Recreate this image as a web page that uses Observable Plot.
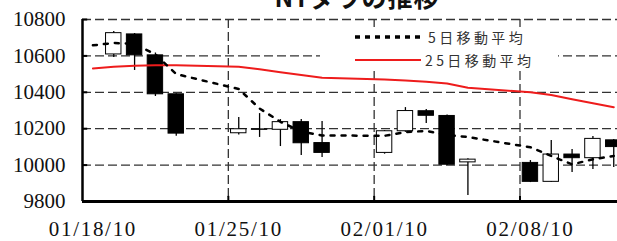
<!DOCTYPE html>
<html><head><meta charset="utf-8">
<script src="https://cdn.jsdelivr.net/npm/d3@7"></script>
<script src="https://cdn.jsdelivr.net/npm/@observablehq/plot@0.6"></script>
<style>
body{margin:0;background:#fff;}
#wrap{position:relative;width:617px;height:241px;overflow:hidden;background:#fff;}
#wrap svg.overlay{position:absolute;left:0;top:0;pointer-events:none;}
</style></head>
<body><div id="wrap"></div>
<script>
// ---- data ----
const title = "NYダウの推移";
const legendLabels = ["5日移動平均", "25日移動平均"];
const tradeDates = ["2010-01-19","2010-01-20","2010-01-21","2010-01-22",
  "2010-01-25","2010-01-26","2010-01-27","2010-01-28","2010-01-29",
  "2010-02-01","2010-02-02","2010-02-03","2010-02-04","2010-02-05",
  "2010-02-08","2010-02-09","2010-02-10","2010-02-11","2010-02-12"];
const opens  = [10608,10718,10603,10389,10175,10196,10194,10236,10121,10067,10186,10296,10270,10015, 10012, 9908,10058,10038,10136];
const highs  = [10734,10723,10616,10392,10262,10283,10250,10250,10240,10190,10316,10305,10275,10035, 10025,10135,10086,10157,10140];
const lows   = [10591,10520,10377,10158,10165,10152,10102,10053,10042,10060,10180,10229, 9998, 9833,  9904, 9905, 9959, 9976, 9987];
const closes = [10725,10603,10389,10173,10197,10194,10236,10120,10067,10186,10297,10271,10002,10030,  9908,10058,10038,10144,10099];
const maDates = ["2010-01-18", ...tradeDates];
const ma5  = [10658,10671,10666,10608,10500,10418,10311,10238,10184,10163,10161,10181,10188,10165,10154,10098,10050,10004,10032,10050];
const ma25 = [10531,10540,10546,10549,10548,10540,10527,10510,10495,10480,10470,10465,10458,10448,10425,10400,10385,10362,10340,10318];
const xTickDates = ["2010-01-18","2010-01-25","2010-02-01","2010-02-08"];
const yTicks = [9800,10000,10200,10400,10600,10800];

// ---- build ----
const DAY = 864e5;
const parse = s => new Date(s + "T00:00:00Z");
const shift = (d, f) => new Date(+d + f * DAY);
const start = parse(xTickDates[0]);
const candles = tradeDates.map((s, i) => ({date: parse(s), open: opens[i], high: highs[i], low: lows[i], close: closes[i]}));
const ma = maDates.map((s, i) => ({date: parse(s), ma5: ma5[i], ma25: ma25[i]}));
const gridDates = xTickDates.slice(1).map(parse);

const chart = Plot.plot({
  width: 617, height: 241,
  marginLeft: 82, marginRight: 0, marginTop: 19, marginBottom: 40,
  style: {fontFamily: "'Liberation Serif', serif", fontSize: "21px", background: "white", color: "#111"},
  x: {type: "utc", domain: [start, shift(start, 25.68)], ticks: xTickDates.map(s => shift(parse(s), 0.5)),
      tickFormat: d3.utcFormat("%m/%d/%y"), tickSize: 0, tickPadding: 20, label: null},
  y: {domain: [9800, 10800], ticks: yTicks, tickFormat: d => String(d), tickSize: 0, tickPadding: 17, label: null},
  color: {type: "identity"},
  marks: [
    Plot.ruleY(yTicks.slice(1), {stroke: "#333", strokeWidth: 1.3, strokeDasharray: "9,4"}),
    Plot.ruleX(gridDates, {stroke: "#333", strokeWidth: 1.3, strokeDasharray: "9,4"}),
    Plot.ruleX(candles, {x: d => shift(d.date, 0.5), y1: "low", y2: "high", stroke: "black", strokeWidth: 1.3}),
    Plot.rect(candles, {x1: d => shift(d.date, 0.13), x2: d => shift(d.date, 0.87), y1: "open", y2: "close",
      fill: d => d.close >= d.open ? "white" : "black", stroke: "black", strokeWidth: 1}),
    Plot.line(ma, {x: d => shift(d.date, 0.5), y: "ma25", stroke: "#ee1c1c", strokeWidth: 2}),
    Plot.line(ma, {x: d => shift(d.date, 0.5), y: "ma5", stroke: "black", strokeWidth: 2.5, strokeDasharray: "4,7"}),
    Plot.ruleX([start], {stroke: "black", strokeWidth: 2.5}),
    Plot.ruleY([yTicks[0]], {stroke: "black", strokeWidth: 3}),
    Plot.ruleY(yTicks, {x1: start, x2: shift(start, 0.25), stroke: "black", strokeWidth: 2}),
    Plot.ruleX(gridDates, {y1: yTicks[0], y2: yTicks[0] + 28, stroke: "black", strokeWidth: 2})
  ]
});
chart.querySelectorAll('g[aria-label^="x-axis"] text').forEach(t => t.style.letterSpacing = "1.7px");
const wrap = document.getElementById("wrap");
wrap.appendChild(chart);

// ---- title + legend overlay ----
const ns = "http://www.w3.org/2000/svg";
const ov = document.createElementNS(ns, "svg");
ov.setAttribute("class", "overlay");
ov.setAttribute("width", 617); ov.setAttribute("height", 241);
ov.innerHTML = `
  <text x="357" y="7" text-anchor="middle" font-family="'Noto Sans CJK JP', sans-serif" font-weight="700" font-size="25" letter-spacing="1" fill="#111">${title}</text>
  <rect x="320" y="27" width="238" height="43" fill="white"/>
  <line x1="355" x2="421" y1="37" y2="37" stroke="black" stroke-width="3.5" stroke-dasharray="5,5"/>
  <line x1="355" x2="421" y1="60" y2="60" stroke="#ee1c1c" stroke-width="2"/>
  <text x="428" y="43" font-family="'Noto Sans CJK JP', sans-serif" font-size="14" letter-spacing="3.4" fill="#333">${legendLabels[0]}</text>
  <text x="425" y="66" font-family="'Noto Sans CJK JP', sans-serif" font-size="14" letter-spacing="3.4" fill="#333">${legendLabels[1]}</text>`;
wrap.appendChild(ov);
</script></body></html>
